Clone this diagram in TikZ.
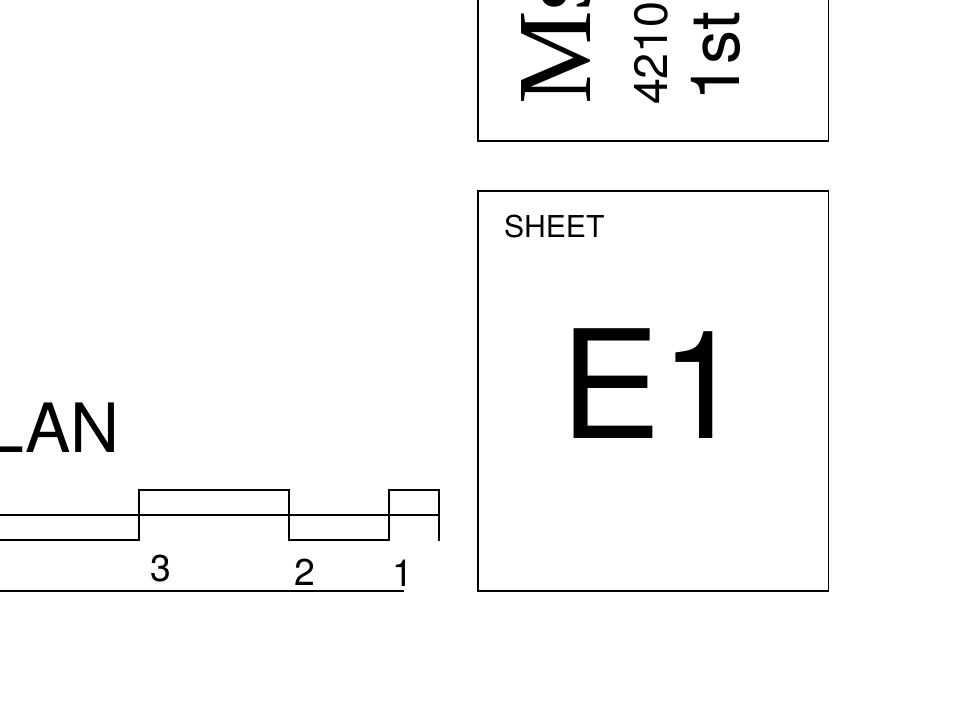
\documentclass[tikz,border=0pt]{standalone}
\usepackage{fontspec}
\setmainfont{TeX Gyre Heros}
\newfontfamily\serifname{Liberation Serif}
\tikzset{
  plan line/.style={line width=0.8pt, black},
  label text/.style={inner sep=0pt, outer sep=0pt, anchor=base west}
}
\begin{document}
\begin{tikzpicture}[x=0.75pt, y=-0.75pt]
        \useasboundingbox (0,0) rectangle (960,720);
        \clip (0,0) rectangle (960,720);

        % Title block
        \draw[plan line] (478,-10) -- (478,141) -- (828.5,141) -- (828.5,-10);
        \node[label text, rotate=90] (name) at (590,105) {\fontsize{79}{79}\selectfont\serifname Ms};
        \node[label text, rotate=90] (street) at (667,105) {\fontsize{35}{35}\selectfont 4210};
        \node[label text, rotate=90] (floor) at (739,102) {\fontsize{51}{51}\selectfont 1st};

        % Sheet box
        \node[draw, plan line, minimum width=262.9pt, minimum height=300pt, inner sep=0pt] (sheetbox) at (653.25,391) {};
        \node[label text] (sheetlabel) at (504,238) {\fontsize{22.6}{22.6}\selectfont SHEET};
        \node[label text] (sheetno) at (560,438) {\fontsize{113}{113}\selectfont E1};

        % Plan title
        \node[label text, anchor=base east] (plantitle) at (120,452) {\fontsize{51}{51}\selectfont LAN};

        % Scale bar
        \coordinate (s0) at (-10,515);
        \coordinate (s1) at (139,490);
        \coordinate (s2) at (289,490);
        \coordinate (s3) at (389,490);
        \coordinate (s4) at (439,490);
        \draw[plan line] (s0) -- (439,515);
        \draw[plan line] (-10,540) -- (139,540) -- (s1) -- (s2) -- (289,540) -- (389,540) -- (s3) -- (s4) -- (439,541);

        \node[inner sep=0pt] (three) at (161,569) {\fontsize{28}{28}\selectfont 3};
        \node[inner sep=0pt] (two) at (305,572) {\fontsize{28}{28}\selectfont 2};
        \node[inner sep=0pt] (one) at (403,573) {\fontsize{28}{28}\selectfont 1};
        \draw[plan line] (-10,591) -- (404,591);
\end{tikzpicture}
\end{document}
